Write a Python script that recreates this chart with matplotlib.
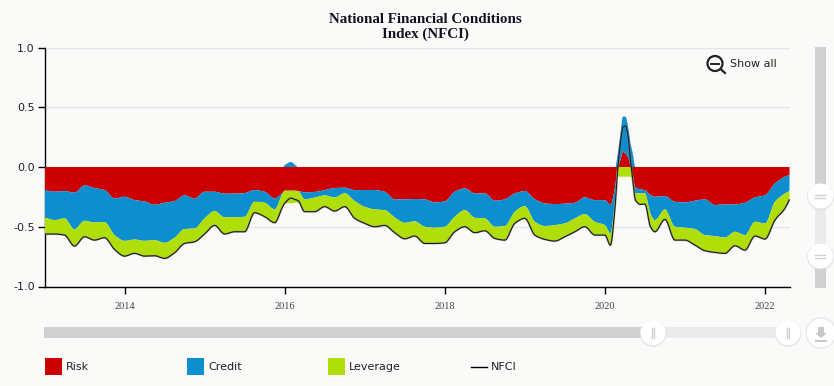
import numpy as np
import matplotlib
matplotlib.use("Agg")
import matplotlib.pyplot as plt
from matplotlib.patches import Circle, PathPatch, Rectangle
from matplotlib.path import Path

# decimal years
dates = [
    2013.0, 2013.125, 2013.25, 2013.375, 2013.5, 2013.625, 2013.75, 2013.875,
    2014.0, 2014.125, 2014.25, 2014.375, 2014.5, 2014.625, 2014.75, 2014.875,
    2015.0, 2015.125, 2015.25, 2015.375, 2015.5, 2015.625, 2015.75, 2015.875,
    2015.981, 2016.0, 2016.081, 2016.125, 2016.169,
    2016.25, 2016.375, 2016.5, 2016.625, 2016.75, 2016.875,
    2017.0, 2017.125, 2017.25, 2017.375, 2017.5, 2017.625, 2017.75, 2017.875,
    2018.0, 2018.125, 2018.25, 2018.375, 2018.5, 2018.625, 2018.75, 2018.875,
    2019.0, 2019.125, 2019.25, 2019.375, 2019.5, 2019.625, 2019.75, 2019.875, 2020.0,
    2020.069, 2020.131, 2020.156, 2020.194, 2020.225, 2020.256, 2020.294,
    2020.319, 2020.344, 2020.381, 2020.444, 2020.5, 2020.569,
    2020.625, 2020.75, 2020.875, 2021.0, 2021.125, 2021.25, 2021.375,
    2021.5, 2021.625, 2021.75, 2021.875, 2022.0, 2022.125, 2022.25, 2022.306,
]

risk = [
    -.193, -.207, -.201, -.215, -.154, -.176, -.193, -.263,
    -.249, -.277, -.288, -.316, -.299, -.285, -.237, -.265,
    -.207, -.207, -.223, -.223, -.218, -.193, -.207, -.263,
    -.212, -.198, -.198, -.198, -.201,
    -.212, -.209, -.193, -.176, -.173, -.193,
    -.193, -.193, -.207, -.271, -.271, -.268, -.271, -.296,
    -.288, -.207, -.179, -.221, -.221, -.282, -.271, -.221,
    -.201, -.271, -.304, -.310, -.307, -.299, -.254, -.277, -.277,
    -.318, -.151, -.011, .059, .128, .115, .073,
    .017, -.053, -.170, -.187, -.193, -.235,
    -.249, -.243, -.291, -.296, -.282, -.271, -.318,
    -.313, -.313, -.299, -.254, -.237, -.137, -.081, -.067,
]

credit = [
    -.229, -.237, -.229, -.307, -.296, -.288, -.268, -.307,
    -.369, -.330, -.330, -.296, -.335, -.307, -.282, -.249,
    -.223, -.162, -.198, -.198, -.198, -.098, -.092, -.092,
    0, .015, .042, .02, 0,
    -.059, -.047, -.045, -.078, -.047, -.092,
    -.140, -.162, -.154, -.151, -.196, -.187, -.229, -.212,
    -.212, -.209, -.182, -.204, -.209, -.218, -.223, -.154,
    -.126, -.187, -.190, -.176, -.165, -.131, -.140, -.182, -.209,
    -.237, -.092, .09, .223, .293, .307, .251,
    .182, .128, -.05, -.034, -.028, -.154,
    -.196, -.112, -.209, -.212, -.237, -.299, -.260,
    -.277, -.229, -.271, -.204, -.235, -.154, -.140, -.134,
]

leverage = [
    -.140, -.117, -.140, -.140, -.134, -.148, -.131, -.120,
    -.128, -.117, -.128, -.131, -.131, -.126, -.120, -.112,
    -.131, -.120, -.140, -.120, -.126, -.092, -.117, -.112,
    -.112, -.106, -.106, -.101, -.098,
    -.103, -.117, -.095, -.115, -.112, -.145,
    -.140, -.145, -.128, -.128, -.134, -.123, -.140, -.131,
    -.134, -.126, -.140, -.126, -.103, -.098, -.117, -.098,
    -.103, -.112, -.112, -.134, -.112, -.112, -.106, -.112, -.084,
    -.098, -.078, -.07, -.081, -.081, -.081, -.081,
    -.081, -.084, -.056, -.092, -.09, -.112,
    -.098, -.084, -.112, -.103, -.134, -.131, -.137,
    -.134, -.117, -.126, -.120, -.131, -.154, -.126, -.070,
]

nfci = [
    -.561, -.561, -.570, -.662, -.584, -.612, -.592, -.690,
    -.746, -.723, -.746, -.743, -.765, -.718, -.640, -.626,
    -.561, -.489, -.561, -.542, -.542, -.383, -.416, -.466,
    -.324, -.304, -.26, -.271, -.282,
    -.374, -.374, -.332, -.369, -.332, -.430,
    -.472, -.500, -.489, -.550, -.601, -.578, -.640, -.640,
    -.634, -.542, -.500, -.550, -.534, -.598, -.612, -.472,
    -.430, -.570, -.606, -.620, -.584, -.542, -.500, -.570, -.570,
    -.654, -.304, -.053, .198, .332, .344, .24,
    .059, -.08, -.277, -.313, -.310, -.5,
    -.542, -.439, -.612, -.612, -.654, -.701, -.715,
    -.723, -.659, -.696, -.578, -.603, -.444, -.346, -.271,
]

year_ticks = [2014, 2016, 2018, 2020, 2022]
y_ticks = [-1.0, -0.5, 0.0, 0.5, 1.0]
legend_names = ["Risk", "Credit", "Leverage", "NFCI"]
title = "National Financial Conditions\nIndex (NFCI)"

RED = "#cc0000"
BLUE = "#0d8ecf"
GREEN = "#b0de09"
BG = "#fafaf8"
W, H = 834, 386


def curve(x, y):
    # bezier through the read points, flat at local turns so nothing overshoots
    x = np.asarray(x, float)
    y = np.asarray(y, float)
    h = np.diff(x)
    s = np.diff(y) / h
    m = np.zeros(len(x))
    m[0], m[-1] = s[0], s[-1]
    for i in range(1, len(x) - 1):
        if s[i - 1] * s[i] > 0:
            m[i] = 2 * s[i - 1] * s[i] / (s[i - 1] + s[i])
    verts = []
    for i in range(len(h)):
        verts.append((x[i] + h[i] / 3, y[i] + m[i] * h[i] / 3))
        verts.append((x[i + 1] - h[i] / 3, y[i + 1] - m[i + 1] * h[i] / 3))
        verts.append((x[i + 1], y[i + 1]))
    return verts


def band(ax, x, low, high, color):
    x = np.asarray(x, float)
    verts = [(x[0], high[0])] + curve(x, high) + [(x[-1], low[-1])] + curve(x[::-1], low[::-1])
    n_top = 3 * (len(x) - 1)
    codes = [Path.MOVETO] + [Path.CURVE4] * n_top + [Path.LINETO] + [Path.CURVE4] * n_top
    ax.add_patch(PathPatch(Path(verts, codes), fc=color, ec="none", lw=0, zorder=3))


def line(ax, x, y, **kw):
    verts = [(x[0], y[0])] + curve(x, y)
    codes = [Path.MOVETO] + [Path.CURVE4] * (len(verts) - 1)
    ax.add_patch(PathPatch(Path(verts, codes), fc="none", **kw))


fig = plt.figure(figsize=(W / 100, H / 100), dpi=100, facecolor=BG)
ax = fig.add_axes([44.5 / W, (H - 286.5) / H, 745 / W, 239 / H], facecolor=BG)

# stacking: negatives and positives pile up separately
r = np.array(risk)
c = np.array(credit)
l = np.array(leverage)
zero = np.zeros(len(r))
n1 = np.minimum(r, 0)
n2 = n1 + np.minimum(c, 0)
n3 = n2 + np.minimum(l, 0)
p1 = np.maximum(r, 0)
p2 = p1 + np.maximum(c, 0)
p3 = p2 + np.maximum(l, 0)

band(ax, dates, n1, zero, RED)
band(ax, dates, zero, p1, RED)
band(ax, dates, n2, n1, BLUE)
band(ax, dates, p1, p2, BLUE)
band(ax, dates, n3, n2, GREEN)
band(ax, dates, p2, p3, GREEN)
line(ax, dates, nfci, ec="#888888", lw=1.5, alpha=0.5, zorder=4)
line(ax, dates, nfci, ec="#1a1a1a", lw=0.8, zorder=5)

ax.set_xlim(2013, 2022.306)
ax.set_ylim(-1, 1)
ax.set_yticks(y_ticks)
ax.set_yticklabels(["%.1f" % v for v in y_ticks], fontsize=8, color="#222222", family="DejaVu Sans")
ax.set_xticks(year_ticks)
ax.set_xticklabels(year_ticks, fontsize=7.5, color="#444444", family="Liberation Serif")
ax.tick_params(axis="y", length=5, width=1, pad=2)
ax.tick_params(axis="x", length=5, width=1, pad=6)
ax.grid(axis="y", color="#e6e6e6", lw=1, zorder=1)
ax.set_axisbelow(True)
for s in ["top", "right"]:
    ax.spines[s].set_visible(False)
for s in ["left", "bottom"]:
    ax.spines[s].set_linewidth(1)
    ax.spines[s].set_color("black")

# overlay in pixel coordinates for the title, sliders and legend
ui = fig.add_axes([0, 0, 1, 1], facecolor="none")
ui.set_xlim(0, W)
ui.set_ylim(H, 0)
ui.axis("off")

ui.text(425.5, 27, title, ha="center", va="center", fontsize=10.8, fontweight="bold",
        family="Liberation Serif", color="#111122", linespacing=1.15)

# zoom-out button
ui.add_patch(Circle((715, 63.5), 7.5, fc="none", ec="#222222", lw=1.6))
ui.plot([711, 719], [63.5, 63.5], color="#222222", lw=1.4)
ui.plot([720.5, 725], [69, 73], color="#222222", lw=1.6)
ui.text(730, 64, "Show all", fontsize=8, va="center", color="#222222", family="DejaVu Sans")


def handle(x, y, r, vertical):
    ui.add_patch(Circle((x, y + 1), r + 1, fc="#dddddd", ec="none", alpha=0.6, zorder=5))
    ui.add_patch(Circle((x, y), r, fc="white", ec="none", zorder=6))
    if vertical:
        ui.plot([x - 5, x + 5], [y - 1.5, y - 1.5], color="#d0d0d0", lw=1, zorder=7)
        ui.plot([x - 5, x + 5], [y + 1.5, y + 1.5], color="#d0d0d0", lw=1, zorder=7)
    else:
        ui.plot([x - 0.8, x - 0.8], [y - 5, y + 5], color="#d0d0d0", lw=1, zorder=7)
        ui.plot([x + 0.8, x + 0.8], [y - 5, y + 5], color="#d0d0d0", lw=1, zorder=7)


# horizontal scrollbar
ui.add_patch(Rectangle((44, 327), 745, 11, fc="#ebebeb", ec="none"))
ui.add_patch(Rectangle((44, 327), 609, 11, fc="#d0d0d0", ec="none"))
handle(653, 332.5, 12.5, False)
handle(788, 332.5, 12.5, False)

# vertical scrollbar
ui.add_patch(Rectangle((815, 47), 11, 241, fc="#d0d0d0", ec="none"))
ui.add_patch(Rectangle((815, 196), 11, 61, fc="#ebebeb", ec="none"))
handle(820.5, 196, 12.5, True)
handle(820.5, 256, 12.5, True)

# download button
ui.add_patch(Circle((821, 333), 15, fc="white", ec="#e8e8e8", lw=1, zorder=5))
ui.fill([818, 824, 824, 827, 821, 815, 818], [327, 327, 333, 333, 338, 333, 333],
        color="#c8c8c8", lw=0, zorder=6)
ui.add_patch(Rectangle((815, 340), 12, 1.8, fc="#c8c8c8", ec="none", zorder=6))

# legend
for x, col, name in zip([45, 187, 328], [RED, BLUE, GREEN], legend_names[:3]):
    ui.add_patch(Rectangle((x, 358), 17, 17, fc=col, ec="none"))
    ui.text(x + 21, 367, name, fontsize=8, va="center", color="#222222", family="DejaVu Sans")
ui.plot([471, 487], [367, 367], color="black", lw=1)
ui.text(491, 367, legend_names[3], fontsize=8, va="center", color="#222222", family="DejaVu Sans")

fig.savefig("out.png", dpi=100, facecolor=BG)
